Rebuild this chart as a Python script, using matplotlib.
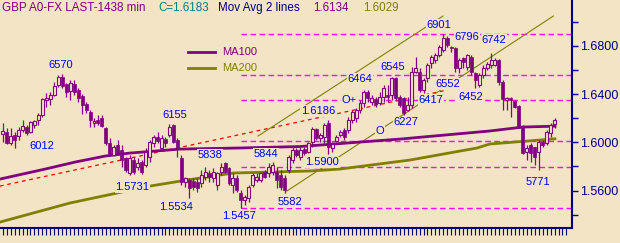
import numpy as np
import matplotlib
matplotlib.use("Agg")
import matplotlib.pyplot as plt

plt.rcParams['font.family'] = ['Liberation Sans', 'DejaVu Sans']

BG = '#f3e4c5'
PURPLE = '#800080'
OLIVE = '#808000'
NAVY = '#000080'
BLUE = '#0000ff'
MAGENTA = '#ff00ff'

# GBP daily bars (1438 min) - open / high / low / close
opens = [1.6069, 1.6085, 1.5994, 1.6061, 1.6052, 1.6102, 1.6127, 1.6085, 1.6144, 1.6185,
         1.6227, 1.6351, 1.6359, 1.6393, 1.6476, 1.6542, 1.6484, 1.6426, 1.6484, 1.6434,
         1.6384, 1.6318, 1.6251, 1.6160, 1.6185, 1.6202, 1.6119, 1.5994, 1.5895, 1.5978,
         1.5936, 1.5870, 1.5745, 1.5853, 1.5795, 1.5836, 1.5812, 1.5878, 1.5994, 1.6044,
         1.5953, 1.6027, 1.6061, 1.6144, 1.6019, 1.5870, 1.5670, 1.5687, 1.5679, 1.5670,
         1.5662, 1.5712, 1.5745, 1.5704, 1.5646, 1.5753, 1.5828, 1.5787, 1.5646, 1.5704,
         1.5579, 1.5521, 1.5538, 1.5646, 1.5687, 1.5687, 1.5753, 1.5745, 1.5753, 1.5753,
         1.5729, 1.5704, 1.5770, 1.5853, 1.5936, 1.5878, 1.5944, 1.5919, 1.6002, 1.6110,
         1.6036, 1.6044, 1.6160, 1.5953, 1.6011, 1.6061, 1.6102, 1.6102, 1.6185, 1.6202,
         1.6268, 1.6326, 1.6417, 1.6334, 1.6359, 1.6326, 1.6376, 1.6393, 1.6393, 1.6534,
         1.6376, 1.6368, 1.6268, 1.6310, 1.6583, 1.6583, 1.6434, 1.6534, 1.6658, 1.6683,
         1.6725, 1.6766, 1.6866, 1.6794, 1.6783, 1.6617, 1.6700, 1.6625, 1.6708, 1.6575,
         1.6476, 1.6559, 1.6617, 1.6641, 1.6641, 1.6683, 1.6500, 1.6351, 1.6368, 1.6343,
         1.6301, 1.6135, 1.5919, 1.5978, 1.5961, 1.5919, 1.6002, 1.5994, 1.6077, 1.6150]
highs = [1.6160, 1.6119, 1.6119, 1.6085, 1.6127, 1.6185, 1.6144, 1.6177, 1.6185, 1.6243,
         1.6368, 1.6409, 1.6417, 1.6500, 1.6559, 1.6570, 1.6492, 1.6517, 1.6517, 1.6451,
         1.6401, 1.6334, 1.6268, 1.6202, 1.6227, 1.6227, 1.6127, 1.6036, 1.5978, 1.6019,
         1.5978, 1.5878, 1.5895, 1.5878, 1.5870, 1.5853, 1.5953, 1.6019, 1.6061, 1.6085,
         1.6061, 1.6044, 1.6150, 1.6155, 1.6036, 1.5895, 1.5712, 1.5704, 1.5704, 1.5704,
         1.5770, 1.5795, 1.5770, 1.5787, 1.5753, 1.5828, 1.5836, 1.5795, 1.5745, 1.5729,
         1.5604, 1.5563, 1.5646, 1.5745, 1.5745, 1.5753, 1.5770, 1.5828, 1.5836, 1.5795,
         1.5770, 1.5729, 1.5895, 1.5961, 1.5953, 1.5961, 1.5961, 1.6002, 1.6127, 1.6119,
         1.6077, 1.6160, 1.6186, 1.6002, 1.6061, 1.6102, 1.6119, 1.6210, 1.6268, 1.6285,
         1.6351, 1.6434, 1.6434, 1.6393, 1.6376, 1.6417, 1.6476, 1.6476, 1.6545, 1.6540,
         1.6393, 1.6376, 1.6376, 1.6625, 1.6708, 1.6617, 1.6534, 1.6658, 1.6725, 1.6741,
         1.6808, 1.6901, 1.6883, 1.6796, 1.6795, 1.6700, 1.6708, 1.6733, 1.6725, 1.6583,
         1.6575, 1.6641, 1.6666, 1.6742, 1.6700, 1.6690, 1.6517, 1.6376, 1.6376, 1.6351,
         1.6310, 1.6144, 1.5978, 1.5994, 1.5961, 1.6019, 1.6019, 1.6102, 1.6160, 1.6202]
lows = [1.6002, 1.5986, 1.5978, 1.5953, 1.6019, 1.6085, 1.6061, 1.6077, 1.6119, 1.6144,
        1.6210, 1.6293, 1.6310, 1.6384, 1.6459, 1.6451, 1.6376, 1.6351, 1.6393, 1.6334,
        1.6235, 1.6243, 1.6127, 1.6127, 1.6144, 1.6127, 1.5978, 1.5887, 1.5887, 1.5895,
        1.5795, 1.5753, 1.5731, 1.5740, 1.5770, 1.5740, 1.5795, 1.5836, 1.5961, 1.5994,
        1.5936, 1.5961, 1.6044, 1.5994, 1.5878, 1.5646, 1.5629, 1.5534, 1.5604, 1.5587,
        1.5629, 1.5687, 1.5670, 1.5670, 1.5604, 1.5729, 1.5745, 1.5646, 1.5579, 1.5587,
        1.5457, 1.5480, 1.5505, 1.5629, 1.5670, 1.5670, 1.5704, 1.5712, 1.5729, 1.5621,
        1.5604, 1.5582, 1.5745, 1.5828, 1.5878, 1.5853, 1.5895, 1.5911, 1.5961, 1.6019,
        1.6002, 1.5994, 1.5900, 1.5919, 1.6002, 1.6044, 1.6019, 1.6077, 1.6160, 1.6168,
        1.6243, 1.6293, 1.6334, 1.6310, 1.6293, 1.6310, 1.6334, 1.6334, 1.6351, 1.6351,
        1.6293, 1.6227, 1.6260, 1.6285, 1.6575, 1.6417, 1.6409, 1.6500, 1.6617, 1.6658,
        1.6708, 1.6750, 1.6791, 1.6750, 1.6583, 1.6575, 1.6617, 1.6600, 1.6559, 1.6452,
        1.6455, 1.6534, 1.6600, 1.6617, 1.6630, 1.6476, 1.6268, 1.6268, 1.6210, 1.6285,
        1.6119, 1.5905, 1.5853, 1.5836, 1.5812, 1.5771, 1.5961, 1.5978, 1.6044, 1.6119]
closes = [1.6094, 1.5994, 1.6052, 1.6019, 1.6102, 1.6135, 1.6077, 1.6168, 1.6177, 1.6227,
          1.6359, 1.6368, 1.6393, 1.6467, 1.6542, 1.6467, 1.6417, 1.6492, 1.6417, 1.6368,
          1.6310, 1.6268, 1.6185, 1.6177, 1.6160, 1.6135, 1.5994, 1.5895, 1.5961, 1.5911,
          1.5853, 1.5770, 1.5870, 1.5753, 1.5828, 1.5753, 1.5919, 1.6002, 1.6044, 1.6011,
          1.6036, 1.5994, 1.6127, 1.6002, 1.5953, 1.5670, 1.5704, 1.5621, 1.5629, 1.5621,
          1.5729, 1.5753, 1.5712, 1.5753, 1.5745, 1.5795, 1.5753, 1.5662, 1.5704, 1.5604,
          1.5521, 1.5546, 1.5629, 1.5729, 1.5712, 1.5745, 1.5712, 1.5795, 1.5812, 1.5687,
          1.5629, 1.5604, 1.5878, 1.5936, 1.5895, 1.5936, 1.5911, 1.5994, 1.6110, 1.6036,
          1.6061, 1.6144, 1.5961, 1.5986, 1.6044, 1.6085, 1.6044, 1.6185, 1.6251, 1.6268,
          1.6326, 1.6417, 1.6368, 1.6368, 1.6318, 1.6376, 1.6451, 1.6376, 1.6534, 1.6368,
          1.6310, 1.6243, 1.6310, 1.6583, 1.6617, 1.6434, 1.6517, 1.6641, 1.6708, 1.6725,
          1.6791, 1.6866, 1.6808, 1.6783, 1.6617, 1.6683, 1.6666, 1.6725, 1.6583, 1.6517,
          1.6559, 1.6617, 1.6650, 1.6683, 1.6683, 1.6500, 1.6359, 1.6368, 1.6351, 1.6293,
          1.6127, 1.5911, 1.5953, 1.5911, 1.5878, 1.6002, 1.5978, 1.6085, 1.6144, 1.6183]

# moving averages, read at a few bars along each line
ma100_bar = [-0.7, 10.7, 18.2, 25.8, 32.1, 44.7, 59.8, 74.9, 100.1, 122.7, 131.1, 139.1]
ma100_val = [1.5695, 1.5778, 1.5836, 1.5886, 1.5911, 1.5944, 1.5953, 1.5965, 1.6027, 1.6094, 1.6127, 1.6134]
ma200_bar = [-0.7, 16.9, 28.8, 37.1, 46.4, 58.0, 77.4, 84.9, 102.6, 119.5, 122.7, 139.1]
ma200_val = [1.5338, 1.5496, 1.5579, 1.5637, 1.5687, 1.5745, 1.5762, 1.5778, 1.5853, 1.5953, 1.5986, 1.6029]

# retracement levels between 1.5457 and 1.6901
fib_levels = [1.6901, 1.6560, 1.6349, 1.6009, 1.5798, 1.5457]
fib_start = 60

# trend lines (bar, price) end points
red_line = ([-0.7, 112.0], [1.5637, 1.6434])
chan_upper = ([64.3, 110.9], [1.6052, 1.7048])
chan_lower = ([71.6, 138.7], [1.5596, 1.7048])

# price labels: text, bar, price
labels = [("6570", 14.7, 1.6642), ("6012", 9.9, 1.5969), ("6155", 43.4, 1.6227),
          ("1.5731", 32.6, 1.5629), ("5838", 52.2, 1.5895), ("1.5534", 43.6, 1.5463),
          ("5844", 66.3, 1.5903), ("1.5457", 59.5, 1.5388), ("5582", 72.4, 1.5504),
          ("1.5900", 80.4, 1.5836), ("1.6186", 79.4, 1.6260), ("6464", 90.0, 1.6525),
          ("6545", 98.3, 1.6625), ("6901", 109.9, 1.6974), ("6796", 116.9, 1.6874),
          ("6742", 123.8, 1.6849), ("6552", 112.2, 1.6484), ("6417", 107.9, 1.6351),
          ("6452", 117.9, 1.6376), ("6227", 101.6, 1.6168), ("5771", 134.8, 1.5670),
          ("O+", 87.2, 1.6351), ("O", 95.0, 1.6094)]

fig = plt.figure(figsize=(6.2, 2.43), dpi=100, facecolor=BG)
ax = fig.add_axes([0, 15 / 243, 572 / 620, 228 / 243], facecolor=BG)

o = np.array(opens)
h = np.array(highs)
l = np.array(lows)
c = np.array(closes)
x = np.arange(len(c))
up = c >= o
lo = np.minimum(o, c)
ht = np.maximum(np.abs(c - o), 0.0003)

# lines
ax.hlines(fib_levels, fib_start, 143.4, colors=MAGENTA, lw=1, linestyles=(0, (4, 2.5)), zorder=1)
ax.plot(*red_line, color='red', lw=0.9, ls=(0, (3, 3)), zorder=1)
ax.plot(*chan_upper, color=OLIVE, lw=0.8, zorder=1)
ax.plot(*chan_lower, color=OLIVE, lw=0.8, zorder=1)
ax.plot(ma100_bar, ma100_val, color=PURPLE, lw=2.0, zorder=2)
ax.plot(ma200_bar, ma200_val, color=OLIVE, lw=2.0, zorder=2)

for txt, bx, by in labels:
    ax.text(bx, by, txt, color=BLUE, fontsize=8, ha='center', va='center', zorder=3,
            bbox=dict(boxstyle='square,pad=0.05', fc=BG, ec='none'))

# candles
ax.vlines(x, l, h, color=PURPLE, lw=0.9, zorder=4)
ax.bar(x[up], ht[up], bottom=lo[up], width=0.75, facecolor=BG, edgecolor=PURPLE, lw=0.8, zorder=5)
ax.bar(x[~up], ht[~up], bottom=lo[~up], width=0.75, facecolor=PURPLE, edgecolor=PURPLE, lw=0.5, zorder=5)

ax.set_xlim(-0.68, 143.4)
ax.set_ylim(1.5289, 1.7181)

for s in ['left', 'top']:
    ax.spines[s].set_visible(False)
for s in ['right', 'bottom']:
    ax.spines[s].set_color(NAVY)
    ax.spines[s].set_linewidth(1.5)

ax.yaxis.tick_right()
ax.set_yticks([1.56, 1.60, 1.64, 1.68])
ax.set_yticklabels(['1.5600', '1.6000', '1.6400', '1.6800'])
ax.set_yticks([1.54, 1.58, 1.62, 1.66, 1.70], minor=True)
ax.tick_params(axis='y', which='both', direction='out', length=4, width=1, color=NAVY,
               labelcolor=NAVY, labelsize=9, pad=2)
ax.set_xticks(np.arange(0, 143))
ax.set_xticklabels([])
ax.tick_params(axis='x', direction='out', length=5, width=0.8, color=NAVY)

# legend
fig.add_artist(plt.Line2D([188 / 620, 215 / 620], [1 - 52 / 243] * 2, color=PURPLE, lw=2.0))
fig.add_artist(plt.Line2D([188 / 620, 215 / 620], [1 - 68 / 243] * 2, color=OLIVE, lw=2.0))
fig.text(222 / 620, 1 - 52 / 243, "MA100", color=PURPLE, fontsize=8, va='center')
fig.text(222 / 620, 1 - 68 / 243, "MA200", color=OLIVE, fontsize=8, va='center')

# header
ty = 1 - 8 / 243
fig.text(2 / 620, ty, "GBP A0-FX LAST-1438 min", color=PURPLE, fontsize=8.4, va='center')
fig.text(158 / 620, ty, "C=1.6183", color='#008080', fontsize=8.4, va='center')
fig.text(218 / 620, ty, "Mov Avg 2 lines", color=NAVY, fontsize=8.4, va='center')
fig.text(313 / 620, ty, "1.6134", color=PURPLE, fontsize=8.4, va='center')
fig.text(363 / 620, ty, "1.6029", color=OLIVE, fontsize=8.4, va='center')

fig.savefig("out.png", dpi=100, facecolor=BG)
